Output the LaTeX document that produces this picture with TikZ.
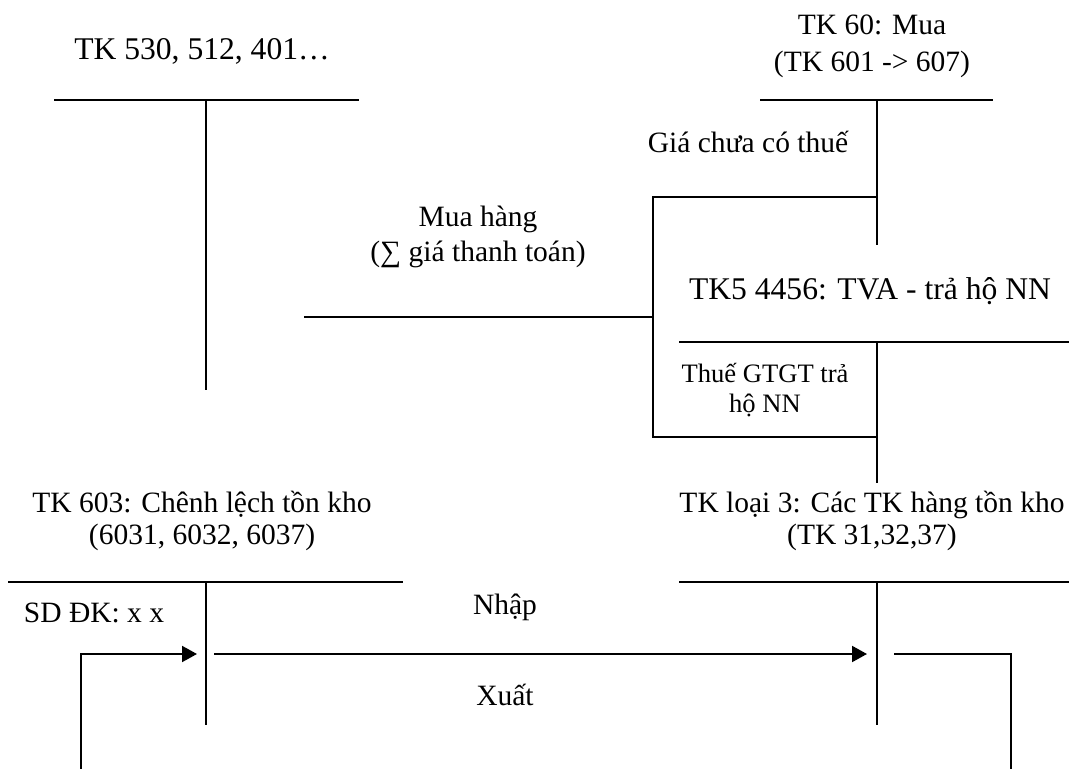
\documentclass[tikz,border=0pt]{standalone}
\usepackage{fontspec}
\setmainfont{Liberation Serif}
\usetikzlibrary{arrows.meta}
\begin{document}
\begin{tikzpicture}[x=0.5pt,y=-0.5pt, line width=1pt,
  lbl/.style={inner sep=0pt, anchor=base, font=\fontsize{14.75}{17}\selectfont},
  big/.style={lbl, font=\fontsize{15.8}{18}\selectfont},
  small/.style={lbl, font=\fontsize{13.3}{15}\selectfont},
  tarr/.style={-{Triangle[length=7.5pt,width=8pt]}}]
\useasboundingbox (0,0) rectangle (1070,769);

% --- TK 530, 512, 401...
\node[big] (t530) at (202,60) {TK 530, 512, 401…};
\coordinate (a1l) at (54,100);   \coordinate (a1r) at (359,100);
\coordinate (a1t) at (206,100);  \coordinate (a1b) at (206,390);
\draw (a1l) -- (a1r);
\draw (a1t) -- (a1b);

% --- TK 60: Mua
\node[lbl] (t60a) at (872,35) {TK 60: Mua};
\node[lbl] (t60b) at (872,72) {(TK 601 -> 607)};
\coordinate (a2l) at (760,100);  \coordinate (a2r) at (993,100);
\coordinate (a2t) at (877,100);  \coordinate (a2b) at (877,245);
\draw (a2l) -- (a2r);
\draw (a2t) -- (a2b);
\node[lbl] (gia) at (748,153) {Giá chưa có thuế};

% --- connection box
\coordinate (bxtl) at (653,197); \coordinate (bxtr) at (877,197);
\coordinate (bxbl) at (653,437); \coordinate (bxbr) at (877,437);
\coordinate (bxm)  at (653,317); \coordinate (mual) at (304,317);
\draw (bxtr) -- (bxtl) -- (bxbl) -- (bxbr);
\draw (mual) -- (bxm);
\node[lbl] (muaa) at (478,227) {Mua hàng};
\node[lbl] (muab) at (478,262) {(∑ giá thanh toán)};

% --- TK5 4456
\node[big] (t445) at (870,300) {TK5 4456: TVA - trả hộ NN};
\coordinate (a3l) at (679,342);  \coordinate (a3r) at (1069,342);
\coordinate (a3t) at (877,342);  \coordinate (a3b) at (877,483);
\draw (a3l) -- (a3r);
\draw (a3t) -- (a3b);
\node[small] (thuea) at (765,383) {Thuế GTGT trả};
\node[small] (thueb) at (765,413) {hộ NN};

% --- TK 603
\node[lbl] (t603a) at (202,513) {TK 603: Chênh lệch tồn kho};
\node[lbl] (t603b) at (202,545) {(6031, 6032, 6037)};
\coordinate (a4l) at (8,582);    \coordinate (a4r) at (403,582);
\coordinate (a4t) at (206,582);  \coordinate (a4b) at (206,725);
\draw (a4l) -- (a4r);
\draw (a4t) -- (a4b);
\node[lbl] (sd) at (94,622) {SD ĐK: x x};

% --- TK loai 3
\node[lbl] (t3a) at (872,513) {TK loại 3: Các TK hàng tồn kho};
\node[lbl] (t3b) at (872,545) {(TK 31,32,37)};
\coordinate (a5l) at (679,582);  \coordinate (a5r) at (1069,582);
\coordinate (a5t) at (877,582);  \coordinate (a5b) at (877,725);
\draw (a5l) -- (a5r);
\draw (a5t) -- (a5b);

% --- flows
\node[lbl] (nhap) at (505,614) {Nhập};
\node[lbl] (xuat) at (505,705) {Xuất};
\coordinate (l0) at (81,769);   \coordinate (l1) at (197,654);
\coordinate (m0) at (214,654);  \coordinate (m1) at (867,654);
\coordinate (r0) at (894,654);  \coordinate (r1) at (1011,769);
\draw[tarr] (l0) |- (l1);
\draw[tarr] (m0) -- (m1);
\draw (r0) -| (r1);
\end{tikzpicture}
\end{document}
